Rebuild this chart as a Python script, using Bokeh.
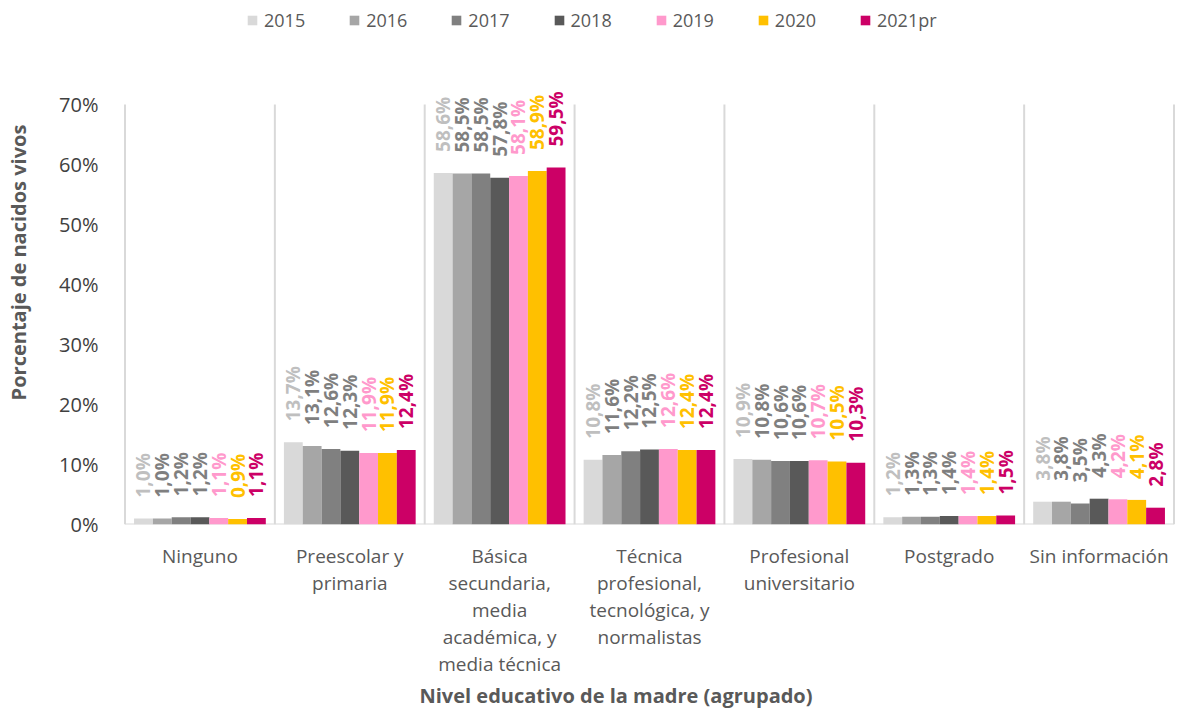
import math
from bokeh.plotting import figure
from bokeh.models import (ColumnDataSource, Range1d, FixedTicker, LabelSet,
                          Legend, LegendItem, Title)
from bokeh.transform import dodge
from bokeh.core.properties import value
from bokeh.embed import file_html
from bokeh.resources import INLINE

# ---------------- data ----------------
categories = [
    "Ninguno",
    "Preescolar y\nprimaria",
    "Básica\nsecundaria,\nmedia\nacadémica, y\nmedia técnica",
    "Técnica\nprofesional,\ntecnológica, y\nnormalistas",
    "Profesional\nuniversitario",
    "Postgrado",
    "Sin información",
]
years = ["2015", "2016", "2017", "2018", "2019", "2020", "2021pr"]
v2015 = [1.0, 13.7, 58.6, 10.8, 10.9, 1.2, 3.8]
v2016 = [1.0, 13.1, 58.5, 11.6, 10.8, 1.3, 3.8]
v2017 = [1.2, 12.6, 58.5, 12.2, 10.6, 1.3, 3.5]
v2018 = [1.2, 12.3, 57.8, 12.5, 10.6, 1.4, 4.3]
v2019 = [1.1, 11.9, 58.1, 12.6, 10.7, 1.4, 4.2]
v2020 = [0.9, 11.9, 58.9, 12.4, 10.5, 1.4, 4.1]
v2021 = [1.1, 12.4, 59.5, 12.4, 10.3, 1.5, 2.8]
series = [v2015, v2016, v2017, v2018, v2019, v2020, v2021]
y_ticks = [0, 10, 20, 30, 40, 50, 60, 70]
y_tick_labels = ["0%", "10%", "20%", "30%", "40%", "50%", "60%", "70%"]

bar_colors = ["#d9d9d9", "#a6a6a6", "#808080", "#595959", "#ff99cc", "#ffc000", "#cc0066"]
label_colors = ["#bfbfbf", "#7f7f7f", "#7f7f7f", "#7f7f7f", "#ff99cc", "#ffc000", "#cc0066"]

FONT = "Open Sans"
TXT = "#595959"

n = len(categories)
p = figure(width=1175, height=709, output_backend="svg", toolbar_location=None,
           x_range=Range1d(-0.01, n + 0.01), y_range=Range1d(0, 87.33),
           min_border_left=123, min_border_right=0, min_border_top=0,
           min_border_bottom=185)
p.outline_line_color = None
p.xgrid.visible = False
p.ygrid.visible = False
p.background_fill_color = "white"
p.border_fill_color = "white"

# category separators and baseline
seg_x = list(range(n + 1))
p.segment(x0=seg_x, x1=seg_x, y0=[0] * (n + 1), y1=[y_ticks[-1]] * (n + 1),
          line_color="#d9d9d9", line_width=2)
p.segment(x0=[0], x1=[n], y0=[0], y1=[0], line_color="#d9d9d9", line_width=2)

xc = [i + 0.5 for i in range(n)]
bw = 0.1256
items = []
for k, (yr, vals) in enumerate(zip(years, series)):
    off = (k - 3) * bw
    src = ColumnDataSource(dict(
        x=xc, y=vals,
        label=[("%.1f" % v).replace(".", ",") + "%" for v in vals]))
    r = p.vbar(x=dodge("x", off), top="y", width=bw, source=src,
               fill_color=bar_colors[k], line_color=None)
    items.append(LegendItem(label=yr, renderers=[r]))
    ls = LabelSet(x=dodge("x", off), y="y", text="label", source=src,
                  angle=math.pi / 2, text_align="left", text_baseline="middle",
                  y_offset=21, text_font=value(FONT), text_font_size="19px",
                  text_font_style="bold", text_color=label_colors[k])
    p.add_layout(ls)

# axes
xa = p.xaxis[0]
xa.ticker = FixedTicker(ticks=xc)
xa.major_label_overrides = {x: c for x, c in zip(xc, categories)}
xa.axis_line_color = None
xa.major_tick_line_color = None
xa.minor_tick_line_color = None
xa.major_label_standoff = 12
xa.major_label_text_font = FONT
xa.major_label_text_font_size = "19px"
xa.major_label_text_color = TXT
xa.major_label_text_line_height = 1.04

ya = p.yaxis[0]
ya.ticker = FixedTicker(ticks=y_ticks)
ya.major_label_overrides = {t: l for t, l in zip(y_ticks, y_tick_labels)}
ya.axis_line_color = None
ya.major_tick_line_color = None
ya.minor_tick_line_color = None
ya.major_label_standoff = 19
ya.major_label_text_font = FONT
ya.major_label_text_font_size = "20px"
ya.major_label_text_color = "#404040"
ya.axis_label = "Porcentaje de nacidos vivos"
ya.axis_label_text_font = FONT
ya.axis_label_text_font_size = "20px"
ya.axis_label_text_font_style = "bold"
ya.axis_label_text_color = TXT
ya.axis_label_standoff = 24

xtitle = Title(text="Nivel educativo de la madre (agrupado)", align="left",
               offset=296, standoff=0, text_font=FONT, text_font_size="20px",
               text_font_style="bold", text_color=TXT)
p.add_layout(xtitle, "below")

legend = Legend(items=items, orientation="horizontal", location=(123, 492),
                padding=0, margin=0, spacing=43, label_standoff=6,
                glyph_width=12, glyph_height=12, label_height=20,
                border_line_color=None, background_fill_alpha=0,
                label_text_font=FONT, label_text_font_size="18px",
                label_text_color=TXT)
p.add_layout(legend)

open("out.html", "w").write(file_html(p, INLINE))
